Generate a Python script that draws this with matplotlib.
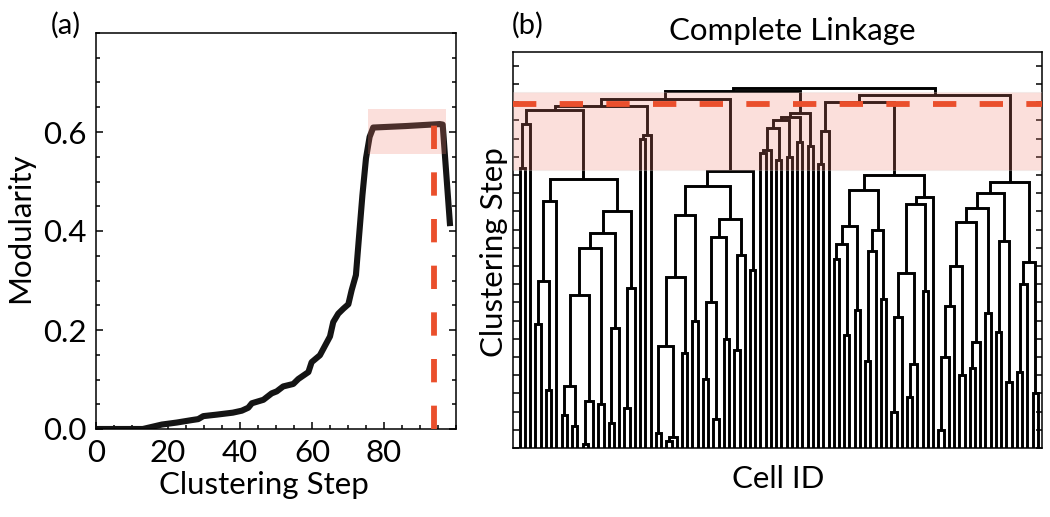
import numpy as np
import matplotlib
matplotlib.use('Agg')
import matplotlib.pyplot as plt

plt.rcParams['font.family'] = ['Lato', 'DejaVu Sans']

# (a) modularity along the clustering steps (vertices)
steps = [1, 13, 18.3, 22.4, 26.6, 28.4, 29.8, 33.5, 38, 40.5, 42.3, 43.3,
         46.5, 48.8, 50.2, 52, 54.8, 56.2, 59, 59.9, 62.2, 65, 65.9, 67.3,
         68.7, 70.1, 71, 72.2, 73, 74, 75, 76, 77, 86, 95.5, 96.3, 98.3]
modularity = [0, 0, 0.009, 0.013, 0.018, 0.020, 0.026, 0.029, 0.033, 0.037,
              0.043, 0.052, 0.059, 0.072, 0.076, 0.086, 0.091, 0.101, 0.115,
              0.135, 0.149, 0.187, 0.216, 0.233, 0.243, 0.252, 0.280, 0.311,
              0.383, 0.472, 0.547, 0.590, 0.609, 0.612, 0.616, 0.615, 0.416]
cut_step = 94
band_steps = [75.5, 97.3]
band_mod = [0.556, 0.647]

# (b) complete-linkage dendrogram of 100 cells.
# merge_pairs[k] is the pair joined at step k+1; >=0 is a cell (in plotted
# order), -s is the cluster formed at step s
n_cells = 100
merge_pairs = [
    (12, 13), (28, 29), (-2, 30), (26, 27), (80, 81), (10, 11), (17, 18),
    (37, 38), (8, 9), (71, 72), (20, 21), (15, 16), (-1, 14), (74, 75),
    (98, 99), (5, 6), (-9, -6), (93, 94), (35, 36), (84, 85), (95, 96),
    (86, 87), (-14, 76), (66, 67), (-5, 82), (31, 32), (41, 42), (-4, -3),
    (-22, 88), (39, 40), (62, 63), (91, 92), (-7, 19), (3, 4), (33, 34),
    (-10, 73), (89, 90), (64, 65), (-25, 83), (-19, -8), (69, 70),
    (-17, -13), (77, 78), (-11, 22), (-21, 97), (-34, -16), (-28, -26),
    (-36, -23), (44, 45), (-39, -20), (-45, -15), (60, 61), (-27, 43),
    (-24, 68), (-42, -12), (-52, -31), (-32, -18), (-40, -30), (-55, -33),
    (-54, -41), (-56, -38), (-50, -29), (-58, -53), (-47, -35), (-59, -44),
    (-62, -37), (-48, -43), (-46, 7), (-67, 79), (-66, -57), (-61, -60),
    (-64, -63), (-70, -51), (-68, -65), (-71, -69), (-72, -49), (0, 1),
    (57, 58), (49, 50), (51, 52), (46, 47), (-81, 48), (55, 56), (53, 54),
    (23, 24), (-85, 25), (-78, 59), (-82, -79), (-77, 2), (-88, -80),
    (-90, -84), (-91, -83), (-89, -74), (-93, -86), (-87, -75), (-94, -76),
    (-95, -73), (-96, -92), (-98, -97)]
band_steps_b = [76.4, 97.9]
cut_step_b = 94.5

red = '#EA4F2C'
pink = '#F08070'

W, H = 1050, 517
fig = plt.figure(figsize=(W / 100, H / 100), dpi=100)
ax1 = fig.add_axes([96 / W, 1 - 429 / H, 360 / W, 396 / H])
ax2 = fig.add_axes([513 / W, 1 - 448 / H, 529 / W, 396 / H])

# ---- panel (a)
ax1.plot(steps, modularity, color='#141414', lw=4.4, solid_joinstyle='round',
         zorder=2)
ax1.fill_between(band_steps, band_mod[0], band_mod[1], color=pink, alpha=0.25,
                 lw=0, zorder=3)
top = np.interp(cut_step, steps, modularity)
ax1.plot([cut_step, cut_step], [0, top], color=red, lw=4.2,
         dashes=(4.0, 4.0), zorder=4)
ax1.set_xlim(0, 100)
ax1.set_ylim(0, 0.8)
ax1.set_xticks([0, 20, 40, 60, 80])
ax1.set_xticks(np.arange(0, 101, 5), minor=True)
ax1.set_yticks([0, 0.2, 0.4, 0.6])
ax1.set_yticklabels(['0.0', '0.2', '0.4', '0.6'])
ax1.set_yticks(np.arange(0, 0.81, 0.05), minor=True)
ax1.tick_params(which='both', direction='in', left=True, right=True,
                bottom=True, top=False, width=1.1, labelsize=22.5)
ax1.tick_params(which='major', length=5, pad=7)
ax1.tick_params(which='minor', length=3)
for s in ax1.spines.values():
    s.set_linewidth(1.1)

# ---- panel (b)
node = {i: (float(i), 0.0) for i in range(n_cells)}
for step, (a, b) in enumerate(merge_pairs, start=1):
    xa, ha = node[a]
    xb, hb = node[b]
    ax2.plot([xa, xa, xb, xb], [ha, step, step, hb], color='k', lw=2.1,
             solid_joinstyle='miter', solid_capstyle='butt', zorder=2)
    node[-step] = ((xa + xb) / 2, step)
ax2.axhspan(band_steps_b[0], band_steps_b[1], facecolor=pink, alpha=0.25,
            edgecolor='#d8d8d8', lw=0.8, zorder=3)
ax2.axhline(cut_step_b, color=red, lw=4.2, dashes=(4.0, 4.0), zorder=4)
ax2.set_xlim(-1.3, n_cells - 0.2)
ax2.set_ylim(0, 108.8)
ax2.set_xticks([])
ax2.set_yticks(np.arange(0, 106, 5))
ax2.set_yticklabels([])
ax2.tick_params(axis='y', direction='in', left=True, right=True, length=4,
                width=1.1)
for s in ax2.spines.values():
    s.set_linewidth(1.1)

# ---- labels
def px(x, y):
    return x / W, 1 - y / H

fig.text(*px(66, 25), '(a)', fontsize=21, ha='center', va='center')
fig.text(*px(20, 228), 'Modularity', fontsize=22.5, rotation=90,
         ha='center', va='center')
fig.text(*px(264, 485), 'Clustering Step', fontsize=22.5, ha='center',
         va='center')
fig.text(*px(528, 25), '(b)', fontsize=21, ha='center', va='center')
fig.text(*px(792, 31), 'Complete Linkage', fontsize=22.5, ha='center',
         va='center')
fig.text(*px(494, 252), 'Clustering Step', fontsize=22.5, rotation=90,
         ha='center', va='center')
fig.text(*px(778, 479), 'Cell ID', fontsize=22.5, ha='center', va='center')

fig.savefig('out.png', dpi=100)
